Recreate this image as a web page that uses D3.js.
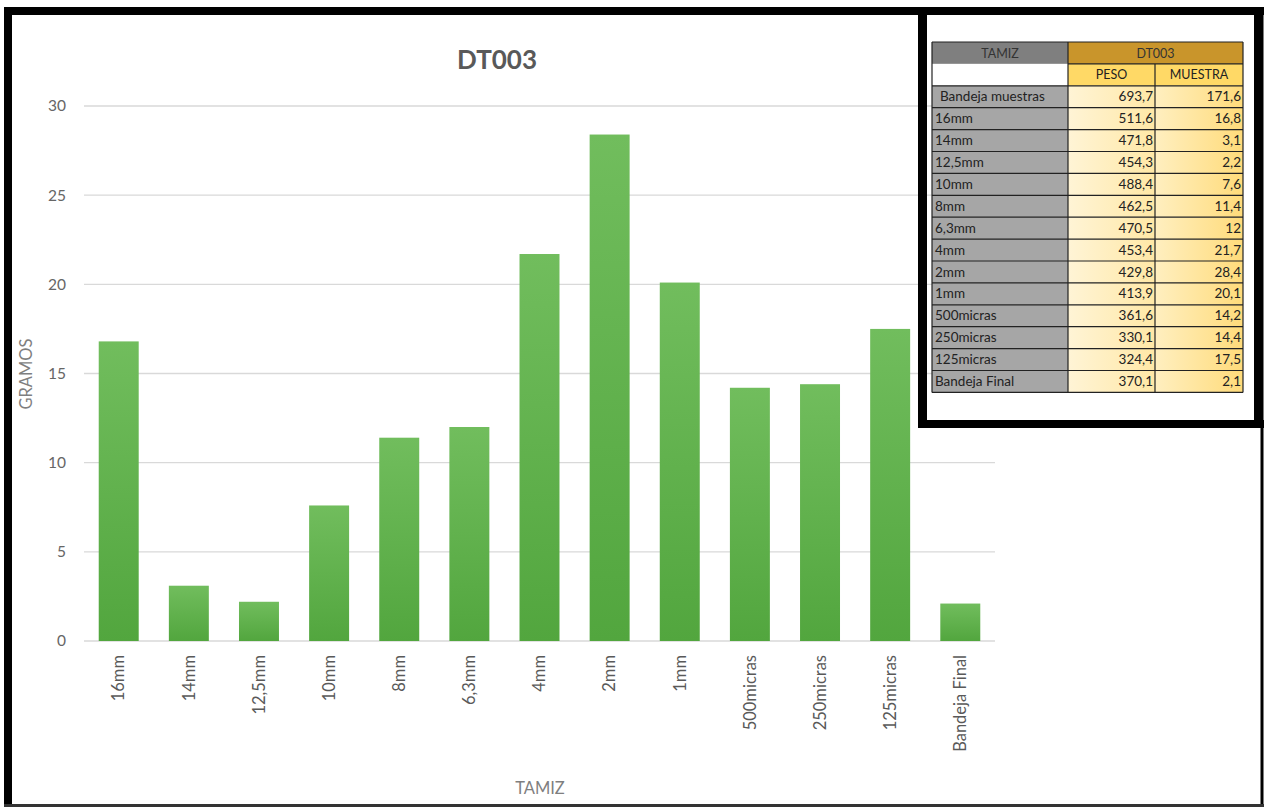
<!DOCTYPE html>
<meta charset="utf-8">
<html>
<head>
    <script src="https://d3js.org/d3.v7.min.js"></script>
    <style>
        body { margin: 0; background: #fff; }
        svg text { font-family: Lato, "Open Sans", sans-serif; }
    </style>
    <title>DT003</title>
</head>
<body>
    <div id="chart"></div>
    <script>

        // chart data
        var categories = ["16mm", "14mm", "12,5mm", "10mm", "8mm", "6,3mm", "4mm", "2mm", "1mm",
            "500micras", "250micras", "125micras", "Bandeja Final"];
        var muestra = [16.8, 3.1, 2.2, 7.6, 11.4, 12, 21.7, 28.4, 20.1, 14.2, 14.4, 17.5, 2.1];
        var yTicks = [0, 5, 10, 15, 20, 25, 30];

        // table data (first row is the tray before sieving)
        var tableLabels = ["Bandeja muestras"].concat(categories);
        var tablePeso = [693.7, 511.6, 471.8, 454.3, 488.4, 462.5, 470.5, 453.4, 429.8, 413.9, 361.6, 330.1, 324.4, 370.1];
        var tableMuestra = [171.6].concat(muestra);

        var W = 1264, H = 809;
        var svg = d3.select("#chart").append("svg")
            .attr("width", W)
            .attr("height", H);

        var defs = svg.append("defs");
        var g1 = defs.append("linearGradient").attr("id", "barGrad")
            .attr("x1", 0).attr("y1", 0).attr("x2", 0).attr("y2", 1);
        g1.append("stop").attr("offset", "0%").attr("stop-color", "#71bd5d");
        g1.append("stop").attr("offset", "100%").attr("stop-color", "#52a63e");

        var gPeso = defs.append("linearGradient").attr("id", "pesoGrad")
            .attr("x1", 0).attr("y1", 0).attr("x2", 1).attr("y2", 0);
        gPeso.append("stop").attr("offset", "0%").attr("stop-color", "#fff4d6");
        gPeso.append("stop").attr("offset", "100%").attr("stop-color", "#ffe8a6");
        var gMues = defs.append("linearGradient").attr("id", "muesGrad")
            .attr("x1", 0).attr("y1", 0).attr("x2", 1).attr("y2", 0);
        gMues.append("stop").attr("offset", "0%").attr("stop-color", "#ffefc0");
        gMues.append("stop").attr("offset", "100%").attr("stop-color", "#ffdb7a");

        // scales
        var x = d3.scaleBand()
            .domain(categories)
            .range([84, 995])
            .paddingInner(0.43)
            .paddingOuter(0.21);
        var y = d3.scaleLinear()
            .domain([0, 30])
            .range([641, 106]);

        // gridlines
        svg.append("g")
            .selectAll("line")
            .data(yTicks)
            .enter()
            .append("line")
            .attr("x1", 84)
            .attr("x2", 995)
            .attr("y1", function (d) { return y(d); })
            .attr("y2", function (d) { return y(d); })
            .attr("stroke", "#d9d9d9")
            .attr("stroke-width", 1.3);

        // y axis labels
        var yAxis = svg.append("g")
            .attr("transform", "translate(66,0)")
            .call(d3.axisLeft(y).tickValues(yTicks).tickSize(0).tickPadding(0));
        yAxis.select(".domain").remove();
        yAxis.selectAll("text")
            .attr("fill", "#666")
            .style("font-size", "15.5px");

        // bars
        svg.append("g")
            .selectAll("rect")
            .data(muestra)
            .enter()
            .append("rect")
            .attr("x", function (d, i) { return x(categories[i]); })
            .attr("y", function (d) { return y(d); })
            .attr("width", x.bandwidth())
            .attr("height", function (d) { return y(0) - y(d); })
            .attr("fill", "url(#barGrad)");

        // x axis labels
        var xAxis = svg.append("g")
            .attr("transform", "translate(0," + y(0) + ")")
            .call(d3.axisBottom(x).tickSize(0).tickPadding(0));
        xAxis.select(".domain").remove();
        xAxis.selectAll("text")
            .attr("transform", "rotate(-90)")
            .attr("text-anchor", "end")
            .attr("x", -14)
            .attr("y", 0)
            .attr("dy", "0.35em")
            .attr("fill", "#595959")
            .style("font-size", "16.5px");

        // titles
        svg.append("text")
            .attr("x", 497)
            .attr("y", 69)
            .attr("text-anchor", "middle")
            .attr("fill", "#595959")
            .style("font-size", "26px")
            .style("font-weight", "bold")
            .text("DT003");
        svg.append("text")
            .attr("transform", "translate(32,374) rotate(-90)")
            .attr("text-anchor", "middle")
            .attr("fill", "#7f7f7f")
            .style("font-size", "16.5px")
            .text("GRAMOS");
        svg.append("text")
            .attr("x", 540)
            .attr("y", 794)
            .attr("text-anchor", "middle")
            .attr("fill", "#7f7f7f")
            .style("font-size", "16.5px")
            .text("TAMIZ");

        // table
        var ty = 42, rh = 21.9;
        var colX = [932, 1068, 1155, 1243];
        var fmt = function (v) { return String(v).replace(".", ","); };
        var table = svg.append("g");

        table.append("rect").attr("x", colX[0]).attr("y", ty).attr("width", colX[1] - colX[0]).attr("height", rh)
            .attr("fill", "#7f7f7f");
        table.append("rect").attr("x", colX[1]).attr("y", ty).attr("width", colX[3] - colX[1]).attr("height", rh)
            .attr("fill", "#c9952b");
        table.append("rect").attr("x", colX[0]).attr("y", ty + rh).attr("width", colX[1] - colX[0]).attr("height", rh)
            .attr("fill", "#ffffff");
        table.append("rect").attr("x", colX[1]).attr("y", ty + rh).attr("width", colX[3] - colX[1]).attr("height", rh)
            .attr("fill", "#ffd966");

        table.append("text").attr("x", (colX[0] + colX[1]) / 2).attr("y", ty + 15.5)
            .attr("text-anchor", "middle").attr("fill", "#333").style("font-size", "12.5px").text("TAMIZ");
        table.append("text").attr("x", (colX[1] + colX[3]) / 2).attr("y", ty + 15.5)
            .attr("text-anchor", "middle").attr("fill", "#333").style("font-size", "12.5px").text("DT003");
        table.append("text").attr("x", (colX[1] + colX[2]) / 2).attr("y", ty + rh + 15.5)
            .attr("text-anchor", "middle").attr("fill", "#222").style("font-size", "12.5px").text("PESO");
        table.append("text").attr("x", (colX[2] + colX[3]) / 2).attr("y", ty + rh + 15.5)
            .attr("text-anchor", "middle").attr("fill", "#222").style("font-size", "12.5px").text("MUESTRA");

        var rows = table.selectAll(".row")
            .data(tableLabels)
            .enter()
            .append("g")
            .attr("class", "row")
            .attr("transform", function (d, i) { return "translate(0," + (ty + rh * (i + 2)) + ")"; });

        rows.append("rect").attr("x", colX[0]).attr("width", colX[1] - colX[0]).attr("height", rh).attr("fill", "#a6a6a6");
        rows.append("rect").attr("x", colX[1]).attr("width", colX[2] - colX[1]).attr("height", rh).attr("fill", "url(#pesoGrad)");
        rows.append("rect").attr("x", colX[2]).attr("width", colX[3] - colX[2]).attr("height", rh).attr("fill", "url(#muesGrad)");

        rows.append("text")
            .attr("x", function (d, i) { return i === 0 ? colX[0] + 8 : colX[0] + 3; })
            .attr("y", 15.5)
            .attr("fill", "#222")
            .style("font-size", "13.5px")
            .text(function (d) { return d; });
        rows.append("text")
            .attr("x", colX[2] - 2)
            .attr("y", 15.5)
            .attr("text-anchor", "end")
            .attr("fill", "#222")
            .style("font-size", "13.5px")
            .text(function (d, i) { return fmt(tablePeso[i]); });
        rows.append("text")
            .attr("x", colX[3] - 2)
            .attr("y", 15.5)
            .attr("text-anchor", "end")
            .attr("fill", "#222")
            .style("font-size", "13.5px")
            .text(function (d, i) { return fmt(tableMuestra[i]); });

        // table grid lines
        var nRows = tableLabels.length + 2;
        var yEnd = ty + rh * nRows;
        for (var r = 0; r <= nRows; r++) {
            var x0 = (r === 1) ? colX[1] : colX[0];
            table.append("line").attr("x1", x0).attr("x2", colX[3])
                .attr("y1", ty + rh * r).attr("y2", ty + rh * r)
                .attr("stroke", "#222").attr("stroke-width", 1.2);
        }
        colX.forEach(function (cx, i) {
            table.append("line").attr("x1", cx).attr("x2", cx)
                .attr("y1", i === 2 ? ty + rh : ty).attr("y2", yEnd)
                .attr("stroke", "#222").attr("stroke-width", 1.2);
        });

        // frames
        var frame = svg.append("g").attr("stroke", "#000");
        frame.append("line").attr("x1", 4).attr("x2", 1264).attr("y1", 11).attr("y2", 11).attr("stroke-width", 8);
        frame.append("line").attr("x1", 8).attr("x2", 8).attr("y1", 7).attr("y2", 807).attr("stroke-width", 8);
        frame.append("line").attr("x1", 1262).attr("x2", 1262).attr("y1", 7).attr("y2", 807).attr("stroke-width", 3);
        frame.append("line").attr("x1", 4).attr("x2", 1264).attr("y1", 805.5).attr("y2", 805.5).attr("stroke-width", 3)
            .attr("stroke", "#333");
        frame.append("line").attr("x1", 922.5).attr("x2", 922.5).attr("y1", 7).attr("y2", 428).attr("stroke-width", 9);
        frame.append("line").attr("x1", 918).attr("x2", 1264).attr("y1", 424).attr("y2", 424).attr("stroke-width", 8);
        frame.append("line").attr("x1", 1258.5).attr("x2", 1258.5).attr("y1", 7).attr("y2", 428).attr("stroke-width", 9);

    </script>
</body>
</html>
